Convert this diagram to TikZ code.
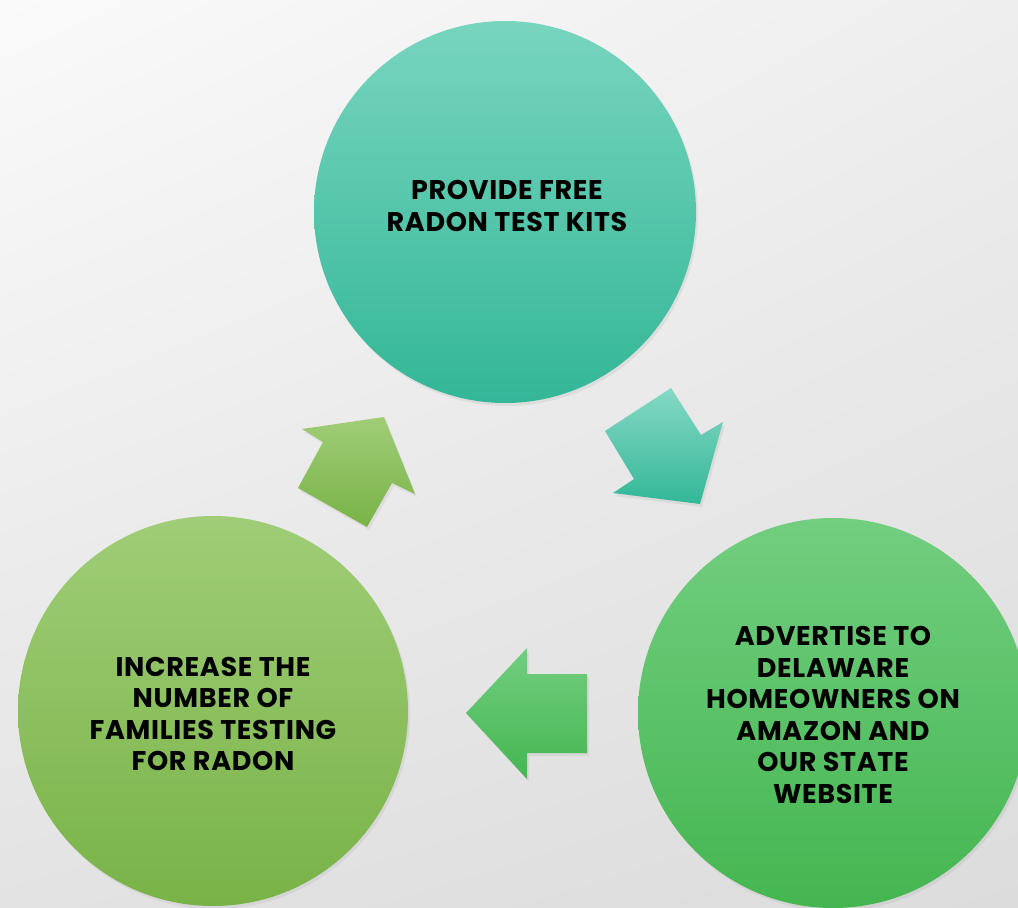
\documentclass[tikz,border=0pt]{standalone}
\usepackage{fontspec}
\setmainfont{Poppins}
\usetikzlibrary{shadows,shadings}
\definecolor{tealTop}{HTML}{78D5BE}
\definecolor{tealBot}{HTML}{33B797}
\definecolor{gTop}{HTML}{72CE80}
\definecolor{gBot}{HTML}{44B650}
\definecolor{lTop}{HTML}{A0CD77}
\definecolor{lBot}{HTML}{78B347}
\definecolor{bgA}{HTML}{FAFAFA}
\definecolor{bgB}{HTML}{EEEEEE}
\definecolor{bgC}{HTML}{E3E3E3}
\definecolor{bgD}{HTML}{DCDCDC}
\tikzset{
  stepcircle/.style={circle, minimum size=#1, inner sep=0pt,
     drop shadow={shadow xshift=2pt, shadow yshift=-3pt, opacity=0.12}},
  steptext/.style={align=center, inner sep=0pt, text=black,
     font=\fontsize{27}{31.5}\selectfont\bfseries\addfontfeature{LetterSpace=2.5}},
  blockarrow/.style={drop shadow={shadow xshift=2pt, shadow yshift=-3pt, opacity=0.12}}
}
\begin{document}
\begin{tikzpicture}[x=1pt,y=-1pt]
\useasboundingbox (0,0) rectangle (1018,908);
\shade[upper left=bgA, upper right=bgB, lower left=bgC, lower right=bgD] (0,0) rectangle (1018,908);
\begin{scope}
\clip (0,0) rectangle (1018,908);
% circles
\node[stepcircle=382pt, top color=tealTop, bottom color=tealBot] (top) at (505,212) {};
\node[stepcircle=390pt, top color=gTop, bottom color=gBot] (right) at (833,713) {};
\node[stepcircle=390pt, top color=lTop, bottom color=lBot] (left) at (213,711) {};
\node[steptext] (topText) at ([xshift=2pt,yshift=6pt]top.center) {PROVIDE FREE\\RADON TEST KITS};
\node[steptext] (rightText) at ([yshift=-2pt]right.center) {ADVERTISE TO\\DELAWARE\\HOMEOWNERS ON\\AMAZON AND\\OUR STATE\\WEBSITE};
\node[steptext] (leftText) at ([yshift=-3pt]left.center) {INCREASE THE\\NUMBER OF\\FAMILIES TESTING\\FOR RADON};
% block arrows
\shade[blockarrow, top color=tealTop!90!white, bottom color=tealBot]
  (605,431) -- (671,388) -- (701,435) -- (723,422) -- (700,504) -- (613,493) -- (634,479) -- cycle;
\shade[blockarrow, top color=gTop, bottom color=gBot]
  (466,713) -- (527,648) -- (527,674) -- (587,674) -- (587,753) -- (527,753) -- (527,779) -- cycle;
\shade[blockarrow, top color=lTop, bottom color=lBot]
  (384,417) -- (415,494) -- (392,483) -- (367,527) -- (298,488) -- (323,442) -- (302,429) -- cycle;
\end{scope}
\end{tikzpicture}
\end{document}
